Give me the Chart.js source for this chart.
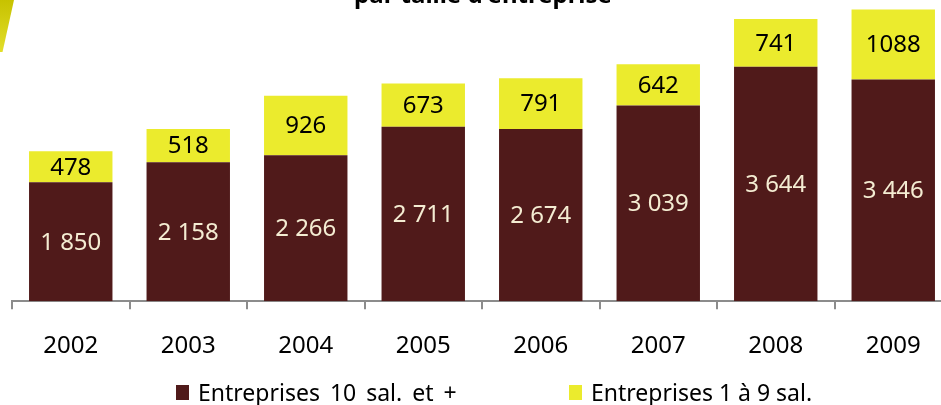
<!DOCTYPE html>
<html>
<head>
<meta charset="utf-8">
<script src="https://cdn.jsdelivr.net/npm/chart.js@4"></script>
<style>
  body { margin: 0; background: #fff; width: 941px; height: 405px; overflow: hidden; position: relative; font-family: 'Noto Sans', sans-serif; }
  #wrap { position: absolute; left: 0; top: 0; }
  .slash { position: absolute; left: 0; top: 0; width: 14px; height: 52px; background: linear-gradient(#c7c200, #e2de2a); clip-path: polygon(0 0, 100% 0, 18% 100%, 0 100%); }
  .leg { position: absolute; top: 377px; height: 30px; display: flex; align-items: center; font-size: 23px; color: #000; white-space: nowrap; }
  .leg i { display: inline-block; width: 13px; height: 15px; margin-right: 9px; }
</style>
</head>
<body>
<div id="wrap"><canvas id="chart" width="960" height="384"></canvas></div>
<div class="slash"></div>
<div class="leg" style="left:176px; word-spacing:4px"><i style="background:#501a1a"></i><span>Entreprises 10 sal. et +</span></div>
<div class="leg" style="left:569px"><i style="background:#ebeb2d"></i><span>Entreprises 1 à 9 sal.</span></div>
<script>
  const years = ['2002', '2003', '2004', '2005', '2006', '2007', '2008', '2009'];
  const big = [1850, 2158, 2266, 2711, 2674, 3039, 3644, 3446];
  const small = [478, 518, 926, 673, 791, 642, 741, 1088];

  function fmt(v) {
    return String(v).replace(/\B(?=(\d{3})+(?!\d))/g, ' ');
  }

  const barLabels = {
    id: 'barLabels',
    afterDatasetsDraw(chart) {
      const ctx = chart.ctx;
      ctx.save();
      ctx.font = '24px "Noto Sans"';
      ctx.textAlign = 'center';
      ctx.textBaseline = 'middle';
      chart.data.datasets.forEach((ds, i) => {
        chart.getDatasetMeta(i).data.forEach((bar, j) => {
          const v = ds.data[j];
          ctx.fillStyle = i === 0 ? '#f4ecd2' : '#000';
          ctx.fillText(i === 0 ? fmt(v) : String(v), bar.x, (bar.y + bar.base) / 2 + 1);
        });
      });
      // title, mostly cut off at the top
      ctx.fillStyle = '#000';
      ctx.font = 'bold 24px "Noto Sans"';
      ctx.textBaseline = 'alphabetic';
      ctx.fillText("par taille d'entreprise", 483, 3);
      ctx.restore();
    }
  };

  const data = {
    labels: years,
    datasets: [{
      label: 'Entreprises 10 sal. et +',
      backgroundColor: '#501a1a',
      data: big,
    },
    {
      label: 'Entreprises 1 à 9 sal.',
      backgroundColor: '#ebeb2d',
      data: small,
    }]
  };

  const config = {
    type: 'bar',
    data: data,
    options: {
      responsive: false,
      animation: false,
      devicePixelRatio: 1,
      categoryPercentage: 1,
      barPercentage: 0.71,
      layout: { padding: { left: 12, right: 8, top: 0, bottom: 0 } },
      plugins: { legend: { display: false }, tooltip: { enabled: false } },
      scales: {
        x: {
          stacked: true,
          grid: { drawOnChartArea: false, tickLength: 8, color: '#8c8c8c', lineWidth: 2, offset: true },
          border: { color: '#8c8c8c', width: 2 },
          ticks: { color: '#000', padding: 23, font: { size: 24, family: 'Noto Sans' } }
        },
        y: { stacked: true, display: false, min: 0, max: 4680 }
      }
    },
    plugins: [barLabels]
  };

  const myChart = new Chart(document.getElementById('chart'), config);
</script>
</body>
</html>
